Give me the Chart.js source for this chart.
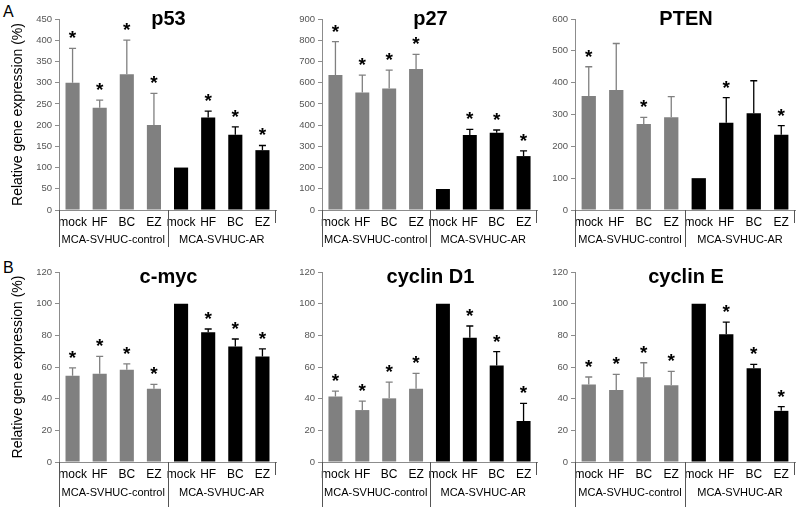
<!DOCTYPE html>
<html>
<head>
<meta charset="utf-8">
<script src="https://cdn.jsdelivr.net/npm/chart.js@4.4.1/dist/chart.umd.min.js"></script>
<style>
  body { margin: 0; background: #fff; }
  #wrap { position: relative; width: 800px; height: 507px; overflow: hidden; font-family: Arial, "Liberation Sans", sans-serif; }
  #wrap canvas { position: absolute; }
  .letter { position: absolute; font-size: 16px; color: #000; }
</style>
</head>
<body>
<div id="wrap">
  <div class="letter" style="left:3px; top:3px;">A</div>
  <div class="letter" style="left:3px; top:259px;">B</div>
  <canvas id="cP53" width="280" height="250" style="left:0; top:0;"></canvas>
  <canvas id="cP27" width="270" height="250" style="left:270px; top:0;"></canvas>
  <canvas id="cPTEN" width="270" height="250" style="left:530px; top:0;"></canvas>
  <canvas id="cMyc" width="280" height="257" style="left:0; top:250px;"></canvas>
  <canvas id="cD1" width="270" height="257" style="left:270px; top:250px;"></canvas>
  <canvas id="cE" width="270" height="257" style="left:530px; top:250px;"></canvas>
</div>
<script>
// Categories and groups
const categories = ['mock', 'HF', 'BC', 'EZ', 'mock', 'HF', 'BC', 'EZ'];
const groupLabels = ['MCA-SVHUC-control', 'MCA-SVHUC-AR'];

// Panel A
const p53Mean = [300, 241, 320, 200, 100, 218, 177, 141];
const p53Err  = [81, 18, 80, 75, 0, 15, 19, 11];
const p53Star = [1, 1, 1, 1, 0, 1, 1, 1];

const p27Mean = [636, 554, 573, 664, 99, 353, 364, 254];
const p27Err  = [157, 82, 86, 69, 0, 27, 13, 25];
const p27Star = [1, 1, 1, 1, 0, 1, 1, 1];

const ptenMean = [358, 377, 270, 291, 100, 274, 304, 236];
const ptenErr  = [92, 146, 21, 65, 0, 79, 102, 29];
const ptenStar = [1, 0, 1, 0, 0, 1, 0, 1];

// Panel B
const mycMean = [54.5, 55.7, 58.2, 46.3, 100, 81.9, 72.9, 66.6];
const mycErr  = [5, 11, 3.8, 2.7, 0, 2.1, 4.8, 4.8];
const mycStar = [1, 1, 1, 1, 0, 1, 1, 1];

const d1Mean = [41.3, 32.8, 40.2, 46.3, 100, 78.5, 61, 25.9];
const d1Err  = [3.5, 5.7, 10.3, 9.7, 0, 7.4, 8.7, 11.1];
const d1Star = [1, 1, 1, 1, 0, 1, 1, 1];

const eMean = [49, 45.4, 53.5, 48.4, 100, 80.7, 59.2, 32.3];
const eErr  = [4.7, 10, 9.2, 8.9, 0, 7.6, 2.5, 2.7];
const eStar = [1, 1, 1, 1, 0, 1, 1, 1];

const GREY = '#808080';
const AXIS = '#8c8c8c';

// Draws error bars, stars, title, group labels and separators
const decorPlugin = {
  id: 'decor',
  afterDraw(chart, args, opts) {
    const ctx = chart.ctx;
    const area = chart.chartArea;
    const xs = chart.scales.x;
    const ys = chart.scales.y;
    const bars = chart.getDatasetMeta(0).data;
    const mean = chart.data.datasets[0].data;

    ctx.save();
    bars.forEach(function(bar, i) {
      const col = i < 4 ? GREY : '#000';
      const top = ys.getPixelForValue(mean[i] + opts.err[i]);
      if (opts.err[i] > 0) {
        ctx.strokeStyle = col;
        ctx.lineWidth = 1.3;
        ctx.beginPath();
        ctx.moveTo(bar.x, bar.y);
        ctx.lineTo(bar.x, top);
        ctx.moveTo(bar.x - 3.5, top);
        ctx.lineTo(bar.x + 3.5, top);
        ctx.stroke();
      }
      if (opts.star[i]) {
        ctx.fillStyle = '#000';
        ctx.font = 'bold 19px Arial';
        ctx.textAlign = 'center';
        ctx.textBaseline = 'alphabetic';
        ctx.fillText('*', bar.x, top - 4);
      }
    });

    // title
    ctx.fillStyle = '#000';
    ctx.font = 'bold 20px Arial';
    ctx.textAlign = 'center';
    ctx.textBaseline = 'alphabetic';
    ctx.fillText(opts.title, (area.left + area.right) / 2 + 1, area.top + opts.titleOffset);

    // separators under the x axis
    const mid = xs.getPixelForValue(3.5);
    ctx.strokeStyle = '#555';
    ctx.lineWidth = 1;
    ctx.beginPath();
    [area.left, mid].forEach(function(x) {
      ctx.moveTo(Math.round(x) + 0.5, area.bottom);
      ctx.lineTo(Math.round(x) + 0.5, area.bottom + opts.sepLen);
    });
    ctx.moveTo(Math.round(area.right) - 0.5, area.bottom);
    ctx.lineTo(Math.round(area.right) - 0.5, area.bottom + 13);
    ctx.stroke();

    // group labels
    ctx.font = '11px Arial';
    ctx.textBaseline = 'middle';
    ctx.fillText(groupLabels[0], (area.left + mid) / 2, area.bottom + opts.groupOffset);
    ctx.fillText(groupLabels[1], (mid + area.right) / 2, area.bottom + opts.groupOffset);

    // y axis title
    if (opts.yTitle) {
      ctx.translate(opts.yTitleX, (area.top + area.bottom) / 2);
      ctx.rotate(-Math.PI / 2);
      ctx.font = '14px Arial';
      ctx.fillText(opts.yTitle, 0, 0);
    }
    ctx.restore();
  }
};

function makePanel(id, opt) {
  const ctx = document.getElementById(id).getContext('2d');
  return new Chart(ctx, {
    type: 'bar',
    data: {
      labels: categories,
      datasets: [{
        data: opt.mean,
        backgroundColor: opt.mean.map(function(v, i) { return i < 4 ? GREY : '#000'; }),
        borderWidth: 0,
        categoryPercentage: 1,
        barPercentage: 0.52
      }]
    },
    options: {
      responsive: false,
      animation: false,
      layout: { padding: { left: 0, right: opt.padRight, top: opt.padTop, bottom: 0 } },
      plugins: {
        legend: { display: false },
        tooltip: { enabled: false },
        decor: {
          err: opt.err,
          star: opt.star,
          title: opt.title,
          titleOffset: opt.titleOffset,
          yTitle: opt.yTitle,
          yTitleX: 18,
          sepLen: opt.sepLen,
          groupOffset: opt.groupOffset
        }
      },
      scales: {
        x: {
          grid: { display: false, drawTicks: false, tickLength: 0 },
          border: { display: true, color: AXIS, width: 1 },
          ticks: {
            color: '#000',
            font: { size: 12, family: 'Arial' },
            padding: 5,
            maxRotation: 0,
            autoSkip: false
          },
          afterFit: function(scale) { scale.height = opt.xHeight; }
        },
        y: {
          min: 0,
          max: opt.max,
          grid: { drawOnChartArea: false, drawTicks: true, tickLength: 4, color: AXIS },
          border: { display: true, color: AXIS, width: 1 },
          ticks: {
            stepSize: opt.step,
            color: '#555',
            font: { size: 9.5, family: 'Arial' },
            padding: 3
          },
          afterFit: function(scale) { scale.width = opt.yWidth; }
        }
      }
    },
    plugins: [decorPlugin]
  });
}

const rowA = { padTop: 19, xHeight: 40, titleOffset: 6, sepLen: 37, groupOffset: 30 };
const rowB = { padTop: 22, xHeight: 45, titleOffset: 11, sepLen: 45, groupOffset: 31 };

makePanel('cP53', Object.assign({}, rowA, {
  mean: p53Mean, err: p53Err, star: p53Star, max: 450, step: 50,
  title: 'p53', yTitle: 'Relative gene expression (%)', yWidth: 59, padRight: 4
}));
makePanel('cP27', Object.assign({}, rowA, {
  mean: p27Mean, err: p27Err, star: p27Star, max: 900, step: 100,
  title: 'p27', yTitle: null, yWidth: 52, padRight: 3
}));
makePanel('cPTEN', Object.assign({}, rowA, {
  mean: ptenMean, err: ptenErr, star: ptenStar, max: 600, step: 100,
  title: 'PTEN', yTitle: null, yWidth: 45, padRight: 5
}));
makePanel('cMyc', Object.assign({}, rowB, {
  mean: mycMean, err: mycErr, star: mycStar, max: 120, step: 20,
  title: 'c-myc', yTitle: 'Relative gene expression (%)', yWidth: 59, padRight: 4
}));
makePanel('cD1', Object.assign({}, rowB, {
  mean: d1Mean, err: d1Err, star: d1Star, max: 120, step: 20,
  title: 'cyclin D1', yTitle: null, yWidth: 52, padRight: 3
}));
makePanel('cE', Object.assign({}, rowB, {
  mean: eMean, err: eErr, star: eStar, max: 120, step: 20,
  title: 'cyclin E', yTitle: null, yWidth: 45, padRight: 5
}));
</script>
</body>
</html>
